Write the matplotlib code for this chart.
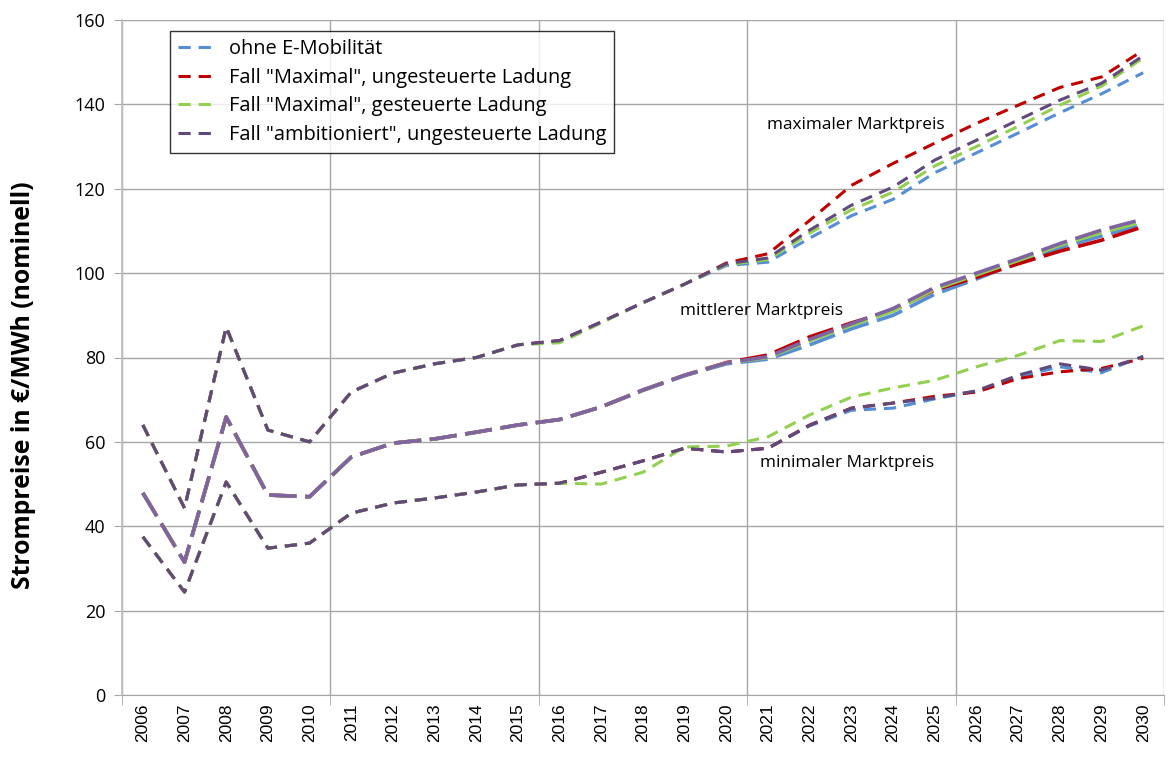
import matplotlib
matplotlib.use("Agg")
import matplotlib.pyplot as plt

years = list(range(2006, 2031))

# Historie 2006-2015 (für alle Szenarien gleich)
hist_max = [64, 44.3, 87.2, 62.8, 60, 71.8, 76.3, 78.5, 80, 83]
hist_mean = [47.9, 31.5, 65.9, 47.4, 47, 56.4, 59.7, 60.7, 62.3, 64]
hist_min = [37.5, 24.4, 50.5, 34.8, 36, 43.1, 45.5, 46.7, 48.1, 49.8]

# Prognose 2016-2030
ohne_max = [84, 88.4, 93, 97.4, 101.8, 102.6, 108.3, 113.6, 117.5, 123.8, 128.5, 133.2, 138, 142.5, 147.5]
maxu_max = [84, 88.4, 93, 97.4, 102.4, 104.6, 112.5, 120.8, 126, 130.8, 135.5, 139.8, 144, 146.5, 152.8]
maxg_max = [83.5, 88.2, 93, 97.4, 102, 103.2, 109.5, 115, 119.2, 125.4, 130, 134.8, 139.8, 144.3, 151]
ambu_max = [84, 88.4, 93, 97.4, 102.2, 103.6, 110.2, 116.1, 120.4, 126.8, 131.5, 136.3, 141, 145, 151.5]

ohne_mean = [65.3, 68.3, 72.2, 75.7, 78.5, 79.6, 83, 86.8, 90, 95, 98.6, 102.5, 106, 108.8, 111.6]
maxu_mean = [65.3, 68.3, 72.3, 75.8, 78.8, 80.6, 84.9, 88.2, 91.2, 96, 99, 102.2, 105.2, 107.8, 111]
maxg_mean = [65.3, 68.3, 72.3, 75.8, 78.7, 80, 84, 87.6, 91, 96.2, 99.6, 103, 106.6, 109.6, 112.2]
ambu_mean = [65.3, 68.3, 72.3, 75.8, 78.7, 80.2, 84.3, 88, 91.6, 96.6, 100, 103.4, 107, 110.2, 112.8]

ohne_min = [50.2, 52.8, 55.5, 58.5, 57.6, 58.5, 63.8, 67.5, 68, 70.2, 72, 75.4, 77.8, 76.4, 80.3]
maxu_min = [50.2, 52.8, 55.5, 58.5, 57.6, 58.5, 64, 68, 69.2, 70.8, 71.8, 75, 76.6, 77.4, 79.8]
maxg_min = [50.2, 50, 52.8, 58.8, 59, 61.2, 66.4, 70.6, 72.8, 74.6, 77.8, 80.5, 84, 83.8, 87.5]
ambu_min = [50.2, 52.8, 55.5, 58.5, 57.6, 58.5, 64, 68, 69.2, 70.4, 72.1, 75.8, 78.5, 77, 80.2]

labels = ['ohne E-Mobilität',
          'Fall "Maximal", ungesteuerte Ladung',
          'Fall "Maximal", gesteuerte Ladung',
          'Fall "ambitioniert", ungesteuerte Ladung']
colors = ['#558ED5', '#C00000', '#92D050', '#604A7B']
mean_colors = ['#558ED5', '#C00000', '#92D050', '#8064A2']

series_max = [ohne_max, maxu_max, maxg_max, ambu_max]
series_mean = [ohne_mean, maxu_mean, maxg_mean, ambu_mean]
series_min = [ohne_min, maxu_min, maxg_min, ambu_min]

fig = plt.figure(figsize=(11.68, 7.58), dpi=100)
ax = fig.add_axes([122 / 1168, 1 - 695 / 758, (1164 - 122) / 1168, 675 / 758])

short = (4, 2.6)
long_ = (7.5, 2.4)
for i in range(4):
    ax.plot(years, hist_max + series_max[i], color=colors[i], lw=2.2,
            dashes=short, label=labels[i], zorder=3 + i)
    ax.plot(years, hist_mean + series_mean[i], color=mean_colors[i], lw=2.6,
            dashes=long_, zorder=3 + i)
    ax.plot(years, hist_min + series_min[i], color=colors[i], lw=2.2,
            dashes=short, zorder=3 + i)

ax.set_xlim(2005.5, 2030.5)
ax.set_ylim(0, 160)
ax.set_yticks(range(0, 161, 20))
ax.set_xticks(years)
ax.set_xticks([2005.5, 2010.5, 2015.5, 2020.5, 2025.5, 2030.5], minor=True)
ax.set_xticklabels([str(y) for y in years], rotation=90, fontsize=12.5,
                   family='Liberation Sans')
ax.tick_params(axis='x', which='major', length=0, pad=6)
ax.tick_params(axis='x', which='minor', length=7, color='#A6A6A6')
ax.tick_params(axis='y', length=6, color='#A6A6A6', labelsize=13, pad=6)
for t in ax.get_yticklabels():
    t.set_family('Open Sans')

ax.grid(True, axis='y', color='#A6A6A6', lw=1)
ax.grid(True, axis='x', which='minor', color='#A6A6A6', lw=1)
for s in ['top', 'right']:
    ax.spines[s].set_visible(False)
ax.spines['left'].set_color('#BFBFBF')
ax.spines['left'].set_linewidth(1.2)
ax.spines['bottom'].set_color('#A6A6A6')
ax.set_axisbelow(True)

ax.set_ylabel('Strompreise in €/MWh (nominell)', fontsize=17.8,
              fontweight='bold', family='Open Sans')
ax.yaxis.set_label_coords(-0.0825, 0.459)

ax.text(2023.1, 135, 'maximaler Marktpreis', fontsize=12.4, family='Open Sans',
        ha='center', va='center')
ax.text(2020.85, 91, 'mittlerer Marktpreis', fontsize=12.4, family='Open Sans',
        ha='center', va='center')
ax.text(2022.9, 55, 'minimaler Marktpreis', fontsize=12.4, family='Open Sans',
        ha='center', va='center')

leg = ax.legend(loc='upper left', bbox_to_anchor=(0.046, 0.983),
                prop={'family': 'Open Sans', 'size': 14.4},
                frameon=True, fancybox=False, edgecolor='black',
                handlelength=2.0, labelspacing=0.42, borderpad=0.4,
                handletextpad=0.55, borderaxespad=0)
leg.get_frame().set_linewidth(1)

fig.savefig('out.png', dpi=100)
